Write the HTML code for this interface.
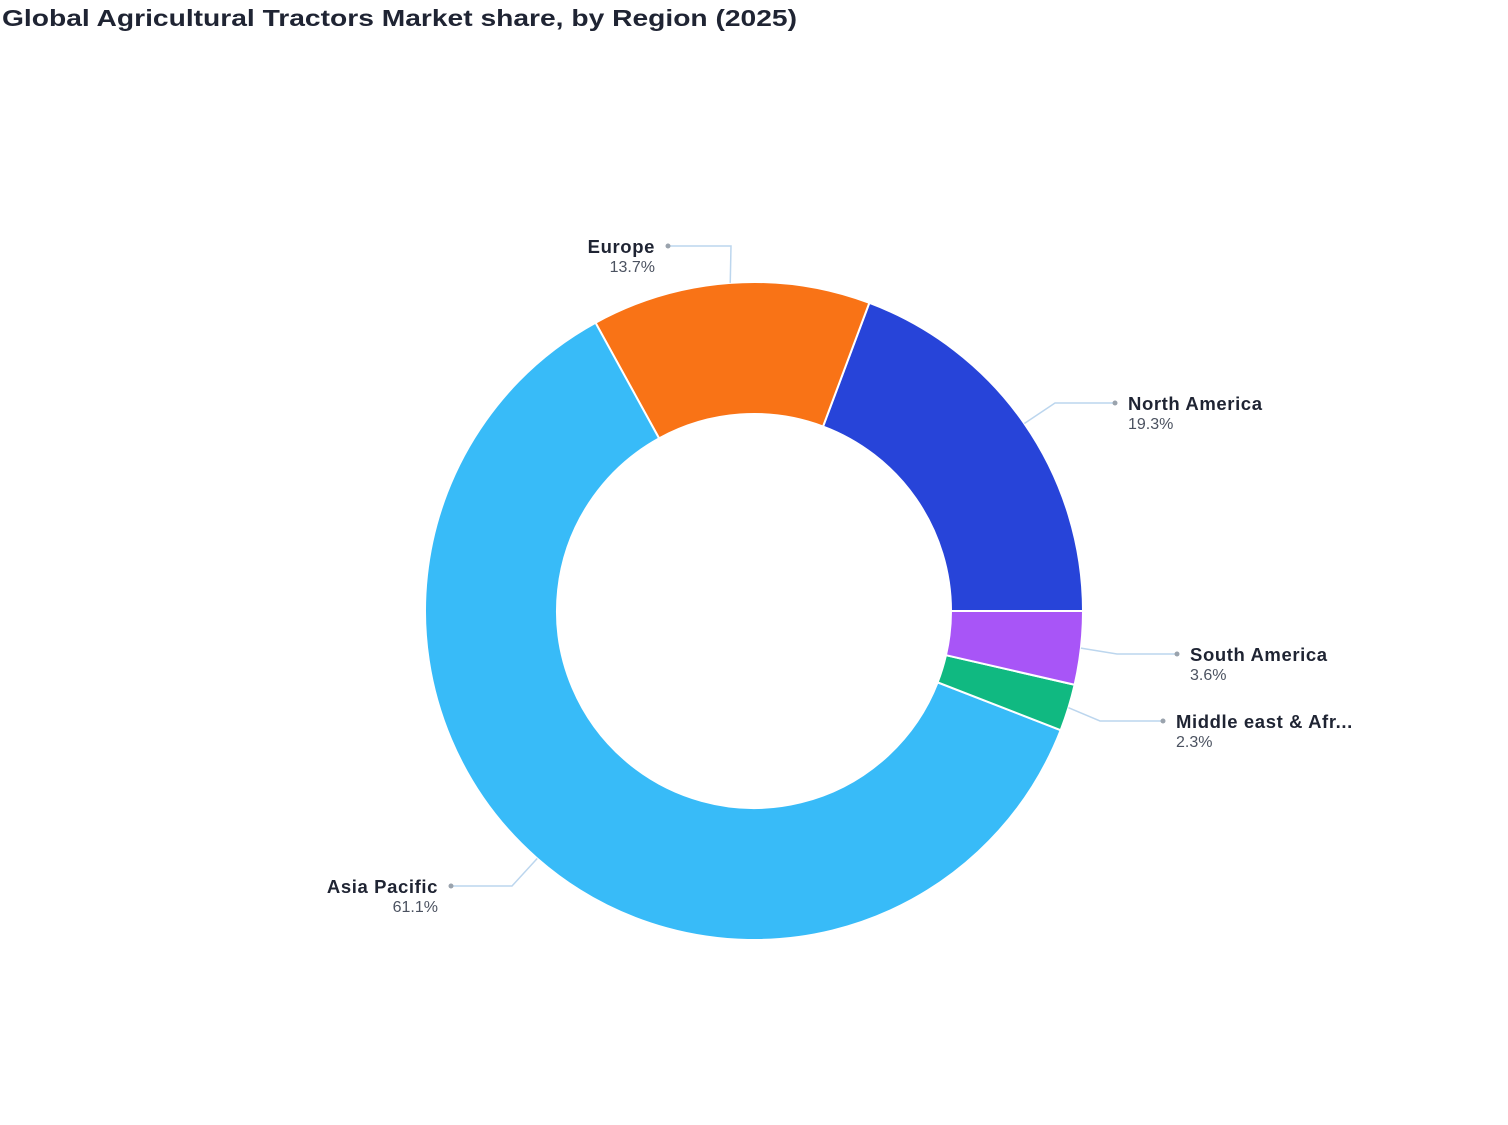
<!DOCTYPE html>
<html><head><meta charset="utf-8"><style>
body{margin:0;background:#fff;width:1508px;height:1120px;overflow:hidden;font-family:"Liberation Sans",sans-serif}
</style></head><body>
<svg width="1508" height="1120">
<text x="2" y="26" font-size="23" font-weight="bold" fill="#1f2433" textLength="795" lengthAdjust="spacingAndGlyphs">Global Agricultural Tractors Market share, by Region (2025)</text>
<g id="slices"></g><g id="labels"></g>
</svg>
<script>
const categories=["North America","Europe","Asia Pacific","Middle east & Afr...","South America"];
const values=[19.3,13.7,61.1,2.3,3.6];
const colors=["#2744d9","#f97316","#38bbf8","#10b981","#a855f7"];
// label layout (styling, not data)
const elbow=[[1055,403],[731,246],[512,886],[1100,721],[1117,654]];
const endX=[1115,668,451,1163,1177];
const side=[1,-1,-1,1,1];
const cx=754,cy=611,R=329,r=197;
const ns="http://www.w3.org/2000/svg";
const gS=document.getElementById('slices'),gL=document.getElementById('labels');
const total=values.reduce((a,b)=>a+b,0);
function pt(a,rad){return [cx+rad*Math.cos(a),cy-rad*Math.sin(a)];}
let acc=0;
values.forEach((v,i)=>{
  const a0=acc/total*2*Math.PI,a1=(acc+v)/total*2*Math.PI;acc+=v;
  const lg=(a1-a0)>Math.PI?1:0;
  const p0=pt(a0,R),p1=pt(a1,R),q1=pt(a1,r),q0=pt(a0,r);
  const p=document.createElementNS(ns,'path');
  p.setAttribute('d',`M${p0}A${R},${R} 0 ${lg} 0 ${p1}L${q1}A${r},${r} 0 ${lg} 1 ${q0}Z`);
  p.setAttribute('fill',colors[i]);p.setAttribute('stroke','#fff');p.setAttribute('stroke-width','2');
  
  
  gS.appendChild(p);
  const m=(a0+a1)/2,s=pt(m,R);
  const l=document.createElementNS(ns,'polyline');
  l.setAttribute('points',`${s} ${elbow[i]} ${endX[i]},${elbow[i][1]}`);
  l.setAttribute('fill','none');l.setAttribute('stroke','#bcd6ee');l.setAttribute('stroke-width','1.5');
  
  
  gL.appendChild(l);
  const c=document.createElementNS(ns,'circle');
  c.setAttribute('cx',endX[i]);c.setAttribute('cy',elbow[i][1]);c.setAttribute('r','2.5');c.setAttribute('fill','#9aa3ad');
  
  
  gL.appendChild(c);
  const tx=endX[i]+side[i]*13,anchor=side[i]>0?'start':'end';
  const t=document.createElementNS(ns,'text');
  t.setAttribute('x',tx);t.setAttribute('y',elbow[i][1]+7);t.setAttribute('text-anchor',anchor);
  t.setAttribute('font-size','18.5');t.setAttribute('font-weight','bold');t.setAttribute('fill','#1f2433');
  t.setAttribute('letter-spacing','0.6');
  t.textContent=categories[i];
  
  
  gL.appendChild(t);
  const t2=document.createElementNS(ns,'text');
  t2.setAttribute('x',tx);t2.setAttribute('y',elbow[i][1]+26);t2.setAttribute('text-anchor',anchor);
  t2.setAttribute('font-size','16');t2.setAttribute('fill','#4b5260');
  t2.textContent=v.toFixed(1)+'%';
  
  
  gL.appendChild(t2);
});
</script>
</body></html>
